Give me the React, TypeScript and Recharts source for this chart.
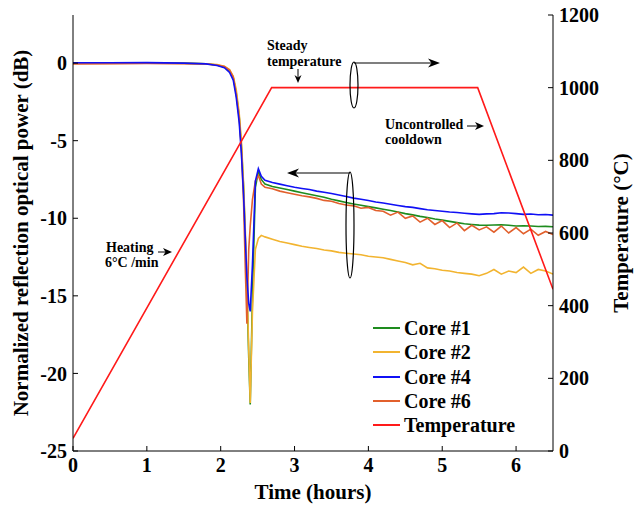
import React from 'react';
import { LineChart, Line, XAxis, YAxis } from 'recharts';

const hours = [
  0, 0.5, 1.0, 1.5, 1.8, 1.95, 2.05, 2.12, 2.17, 2.21, 2.25, 2.28, 2.31, 2.335, 2.355, 2.38, 2.40, 2.43, 2.47, 2.51, 2.55, 2.60,
  2.7, 2.8, 2.9,
  3.0, 3.1, 3.2, 3.3, 3.4, 3.5, 3.6, 3.7, 3.8, 3.9,
  4.0, 4.1, 4.2, 4.3, 4.4, 4.5, 4.6, 4.7, 4.8, 4.9,
  5.0, 5.1, 5.2, 5.3, 5.4, 5.5, 5.6, 5.7, 5.8, 5.9,
  6.0, 6.1, 6.2, 6.3, 6.4, 6.5,
];

const core1 = [
  0.0, 0.01, 0.02, 0.0, -0.04, -0.12, -0.25, -0.5, -0.95, -1.9, -3.4, -5.3, -8.0, -11.5, -14.5, -19.0, -22.0, -15.0, -8.0, -7.0, -7.5, -7.8,
  -7.95, -8.05, -8.15,
  -8.25, -8.35, -8.45, -8.55, -8.65, -8.78, -8.88, -8.98, -9.08, -9.16,
  -9.25, -9.33, -9.42, -9.5, -9.6, -9.7, -9.78, -9.88, -9.95, -10.05,
  -10.12, -10.2, -10.28, -10.35, -10.4, -10.44, -10.45, -10.43, -10.42, -10.45,
  -10.5, -10.48, -10.5, -10.53, -10.52, -10.55,
];

const core2 = [
  -0.03, -0.02, 0.0, -0.02, -0.05, -0.1, -0.2, -0.42, -0.85, -1.7, -3.2, -5.0, -7.8, -11.0, -14.0, -18.5, -21.9, -16.0, -12.0, -11.3, -11.1, -11.2,
  -11.35, -11.5, -11.6,
  -11.7, -11.8, -11.88, -11.95, -12.05, -12.1, -12.2, -12.25, -12.3, -12.35,
  -12.45, -12.5, -12.55, -12.65, -12.75, -12.85, -13.0, -12.9, -13.2, -13.25,
  -13.35, -13.4, -13.5, -13.55, -13.6, -13.7, -13.55, -13.3, -13.6, -13.4,
  -13.5, -13.15, -13.55, -13.3, -13.4, -13.6,
];

const core4 = [
  0.02, 0.02, 0.03, 0.0, -0.05, -0.15, -0.3, -0.6, -1.1, -2.2, -3.8, -5.8, -8.5, -11.5, -13.8, -15.5, -16.0, -13.0, -7.6, -6.8, -7.3, -7.55,
  -7.7, -7.8, -7.9,
  -8.0, -8.08, -8.15, -8.25, -8.32, -8.4, -8.5, -8.6, -8.7, -8.77,
  -8.85, -8.95, -9.02, -9.1, -9.18, -9.25, -9.3, -9.38, -9.45, -9.5,
  -9.55, -9.6, -9.63, -9.68, -9.72, -9.75, -9.72, -9.7, -9.65, -9.66,
  -9.7, -9.75, -9.73, -9.77, -9.76, -9.8,
];

const core6 = [
  -0.05, -0.04, -0.03, -0.04, -0.06, -0.12, -0.22, -0.45, -0.9, -2.0, -3.5, -5.5, -9.0, -13.5, -16.8, -12.0, -10.5, -8.8, -7.6, -7.25, -7.8, -8.0,
  -8.1, -8.25, -8.35,
  -8.45, -8.55, -8.62, -8.72, -8.85, -8.9, -9.05, -9.15, -9.2, -9.35,
  -9.3, -9.5, -9.55, -9.8, -9.6, -10.0, -9.85, -10.25, -10.0, -10.4,
  -10.15, -10.6, -10.3, -10.8, -10.45, -10.75, -10.55, -10.9, -10.5, -10.95,
  -10.6, -11.0, -10.7, -11.1, -10.85, -11.05,
];

const tempHours = [0, 2.69, 5.48, 6.5];
const tempValues = [35, 1000, 1000, 445];

const xTicks = [0, 1, 2, 3, 4, 5, 6];
const leftTicks = [-25, -20, -15, -10, -5, 0];
const rightTicks = [0, 200, 400, 600, 800, 1000, 1200];

const series = [
  { key: 'c1', name: 'Core #1', color: '#1e8c1e' },
  { key: 'c2', name: 'Core #2', color: '#f2b430' },
  { key: 'c4', name: 'Core #4', color: '#1010f5' },
  { key: 'c6', name: 'Core #6', color: '#e2602c' },
  { key: 'temp', name: 'Temperature', color: '#ff1a1a' },
];

const table = hours.map((t, i) => ({ t, c1: core1[i], c2: core2[i], c4: core4[i], c6: core6[i] }));
const tempData = tempHours.map((t, i) => ({ t, temp: tempValues[i] }));

const FONT = '"Liberation Serif", "Times New Roman", serif';
const tickStyle = { fill: '#000', fontSize: 20, fontWeight: 'bold', fontFamily: FONT } as any;

const LegendBox = () => (
  <div style={{ position: 'absolute', left: 373, top: 316, fontFamily: FONT, fontWeight: 'bold', fontSize: 20, color: '#000', lineHeight: 1 }}>
    {series.map((s) => (
      <div key={s.key} style={{ display: 'flex', alignItems: 'center', height: 24.3, whiteSpace: 'nowrap' }}>
        <span style={{ display: 'inline-block', width: 27, height: 0, borderTop: `2px solid ${s.color}`, marginRight: 4 }} />
        <span>{s.name}</span>
      </div>
    ))}
  </div>
);

const annFont = { fontFamily: FONT, fontWeight: 'bold', fontSize: 14, fill: '#000' } as any;

export default function App() {
  return (
    <div style={{ position: 'relative', width: 636, height: 508, background: '#fff' }}>
      <style>{`body{margin:0;}`}</style>
      <LineChart width={636} height={508} data={table} margin={{ top: 15, right: 13, bottom: 27, left: 13 }}>
        <XAxis
          dataKey="t"
          type="number"
          domain={[0, 6.5]}
          ticks={xTicks}
          allowDataOverflow
          height={30}
          tickSize={-5}
          tickMargin={12}
          tick={tickStyle}
          stroke="#000"
          interval={0}
        />
        <YAxis
          yAxisId="left"
          domain={[-25, 3.1]}
          ticks={leftTicks}
          allowDataOverflow
          width={60}
          tickSize={-5}
          tickMargin={11}
          tick={tickStyle}
          stroke="#000"
          interval={0}
        />
        <YAxis
          yAxisId="right"
          orientation="right"
          domain={[0, 1200]}
          ticks={rightTicks}
          allowDataOverflow
          width={70}
          tickSize={-5}
          tickMargin={11}
          tick={{ ...tickStyle, textAnchor: 'start' }}
          stroke="#000"
          interval={0}
        />
        <Line yAxisId="left" dataKey="c1" name="Core #1" stroke={series[0].color} strokeWidth={1.6} dot={false} isAnimationActive={false} />
        <Line yAxisId="left" dataKey="c2" name="Core #2" stroke={series[1].color} strokeWidth={1.6} dot={false} isAnimationActive={false} />
        <Line yAxisId="left" dataKey="c6" name="Core #6" stroke={series[3].color} strokeWidth={1.6} dot={false} isAnimationActive={false} />
        <Line yAxisId="left" dataKey="c4" name="Core #4" stroke={series[2].color} strokeWidth={1.6} dot={false} isAnimationActive={false} />
        <Line yAxisId="right" data={tempData} dataKey="temp" name="Temperature" stroke={series[4].color} strokeWidth={1.6} dot={false} isAnimationActive={false} />
      </LineChart>
      <LegendBox />
      <svg style={{ position: 'absolute', left: 0, top: 0, pointerEvents: 'none' }} width={636} height={508}>
        <text x={21} y={233} transform="rotate(-90 21 233)" textAnchor="middle" dominantBaseline="central"
          style={{ fontFamily: FONT, fontWeight: 'bold', fontSize: 21 }} fill="#000">
          Normalized reflection optical power (dB)
        </text>
        <text x={621} y={233} transform="rotate(-90 621 233)" textAnchor="middle" dominantBaseline="central"
          style={{ fontFamily: FONT, fontWeight: 'bold', fontSize: 21 }} fill="#000">
          Temperature (°C)
        </text>
        <text x={313} y={499} textAnchor="middle" style={{ fontFamily: FONT, fontWeight: 'bold', fontSize: 21 }} fill="#000">
          Time (hours)
        </text>

        <text x={267} y={50} style={annFont}>Steady</text>
        <text x={267} y={66} style={annFont}>temperature</text>
        <line x1={298} y1={69} x2={298} y2={79} stroke="#000" strokeWidth={1} />
        <polygon points="298,83 294.5,75 298,77.5 301.5,75" fill="#000" />

        <ellipse cx={354} cy={85} rx={4} ry={23} fill="none" stroke="#000" strokeWidth={1.2} />
        <line x1={354} y1={63} x2={432} y2={63} stroke="#000" strokeWidth={1.2} />
        <polygon points="440,63 428,58.5 431.5,63 428,67.5" fill="#000" />

        <ellipse cx={350} cy={225} rx={4} ry={53} fill="none" stroke="#000" strokeWidth={1.2} />
        <line x1={350} y1={173} x2={295} y2={173} stroke="#000" strokeWidth={1.2} />
        <polygon points="287,173 299,168.5 295.5,173 299,177.5" fill="#000" />

        <text x={106} y={252} style={annFont}>Heating</text>
        <text x={105} y={267} style={annFont}>6°C /min</text>
        <line x1={158} y1={252} x2={167} y2={252} stroke="#000" strokeWidth={1} />
        <polygon points="172,252 163,248 165.5,252 163,256" fill="#000" />

        <text x={385} y={129} style={annFont}>Uncontrolled</text>
        <text x={385} y={144} style={annFont}>cooldown</text>
        <line x1={467} y1={126} x2={478} y2={126} stroke="#000" strokeWidth={1} />
        <polygon points="484,126 475,122 477.5,126 475,130" fill="#000" />
      </svg>
    </div>
  );
}
